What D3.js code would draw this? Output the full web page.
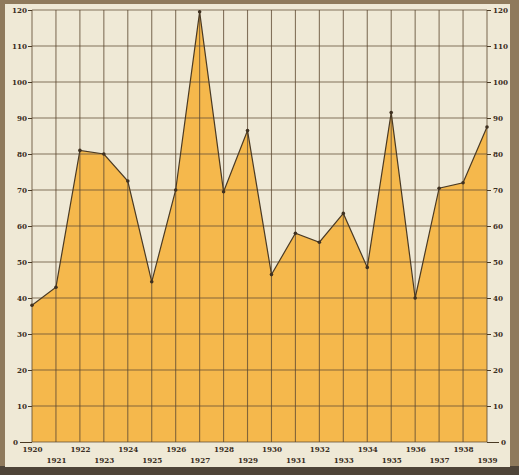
<!DOCTYPE html>
<html>
<head>
<meta charset="utf-8">
<script src="https://cdn.jsdelivr.net/npm/d3@7"></script>
<style>
  body { margin: 0; background: #8a7458; }
  svg { display: block; }
</style>
</head>
<body>
<div id="chart"></div>
<script>
// Data
const years = [1920, 1921, 1922, 1923, 1924, 1925, 1926, 1927, 1928, 1929,
               1930, 1931, 1932, 1933, 1934, 1935, 1936, 1937, 1938, 1939];
const values = [38, 43, 81, 80, 72.5, 44.5, 70, 119.5, 69.5, 86.5,
                46.5, 58, 55.5, 63.5, 48.5, 91.5, 40, 70.5, 72, 87.5];
const yTicks = [0, 10, 20, 30, 40, 50, 60, 70, 80, 90, 100, 110, 120];

const W = 519, H = 475;
const margin = { top: 10, right: 32, bottom: 33, left: 32 };
const width = W - margin.left - margin.right;
const height = H - margin.top - margin.bottom;
const labelFont = "'DejaVu Serif Condensed', 'DejaVu Serif', serif";

const root = d3.select("#chart").append("svg")
    .attr("width", W)
    .attr("height", H);

// paper card on a dark backing
root.append("rect")
    .attr("x", 0).attr("y", 0).attr("width", W).attr("height", H)
    .attr("fill", "#8f7a5c");
root.append("rect")
    .attr("x", 0).attr("y", 466).attr("width", W).attr("height", 9)
    .attr("fill", "#4e4438");
root.append("rect")
    .attr("x", 5).attr("y", 4).attr("width", 505).attr("height", 463)
    .attr("fill", "#efe9d6");

const svg = root.append("g")
    .attr("transform", "translate(" + margin.left + "," + margin.top + ")");

const x = d3.scaleLinear()
    .domain([1920, 1939])
    .range([0, width]);

const y = d3.scaleLinear()
    .domain([0, 120])
    .range([height, 0]);

const data = years.map((yr, i) => ({ year: yr, value: values[i] }));

// area
const area = d3.area()
    .x(d => x(d.year))
    .y0(height)
    .y1(d => y(d.value));

svg.append("path")
    .datum(data)
    .attr("d", area)
    .attr("fill", "#f5b84c");

// grid
svg.append("g")
    .selectAll("line")
    .data(years)
    .join("line")
    .attr("x1", d => x(d)).attr("x2", d => x(d))
    .attr("y1", 0).attr("y2", height)
    .attr("stroke", "#5e4a32")
    .attr("stroke-width", 1.1)
    .attr("opacity", 0.75);

svg.append("g")
    .selectAll("line")
    .data(yTicks)
    .join("line")
    .attr("x1", 0).attr("x2", width)
    .attr("y1", d => y(d)).attr("y2", d => y(d))
    .attr("stroke", "#5e4a32")
    .attr("stroke-width", 1.1)
    .attr("opacity", 0.75);

// outline
const line = d3.line()
    .x(d => x(d.year))
    .y(d => y(d.value));

svg.append("path")
    .datum(data)
    .attr("d", line)
    .attr("fill", "none")
    .attr("stroke", "#4a3a24")
    .attr("stroke-width", 1.2);

svg.selectAll(".dot")
    .data(data)
    .join("circle")
    .attr("cx", d => x(d.year))
    .attr("cy", d => y(d.value))
    .attr("r", 1.8)
    .attr("fill", "#3e3020");

function styleLabels(g) {
    g.selectAll("text")
        .attr("fill", "#3a2e22")
        .style("font-family", labelFont)
        .style("font-weight", "bold")
        .style("font-size", "8px");
}

// left axis
const yAxisL = d3.axisLeft(y).tickValues(yTicks).tickSize(4).tickPadding(1);
svg.append("g")
    .call(yAxisL)
    .call(g => g.select(".domain").remove())
    .call(g => g.selectAll("line").attr("stroke", "#4a3a24"))
    .call(styleLabels)
    // the zero tick is drawn longer so its label clears the year labels
    .call(g => g.selectAll(".tick").filter(d => d === 0)
        .call(t => t.select("line").attr("x2", -12))
        .call(t => t.select("text").attr("x", -14)));

// right axis
const yAxisR = d3.axisRight(y).tickValues(yTicks).tickSize(4).tickPadding(2);
svg.append("g")
    .attr("transform", "translate(" + width + ",0)")
    .call(yAxisR)
    .call(g => g.select(".domain").remove())
    .call(g => g.selectAll("line").attr("stroke", "#4a3a24"))
    .call(styleLabels)
    .call(g => g.selectAll(".tick").filter(d => d === 0)
        .call(t => t.select("line").attr("x2", 12))
        .call(t => t.select("text").attr("x", 14)));

// bottom axis, labels alternate between two rows
const xAxis = d3.axisBottom(x).tickValues(years).tickSize(0).tickFormat(d3.format("d"));
const xg = svg.append("g")
    .attr("transform", "translate(0," + height + ")")
    .call(xAxis);
xg.select(".domain").remove();
xg.selectAll("text")
    .attr("y", (d, i) => i % 2 === 0 ? 4 : 15);
xg.call(styleLabels);
</script>
</body>
</html>
